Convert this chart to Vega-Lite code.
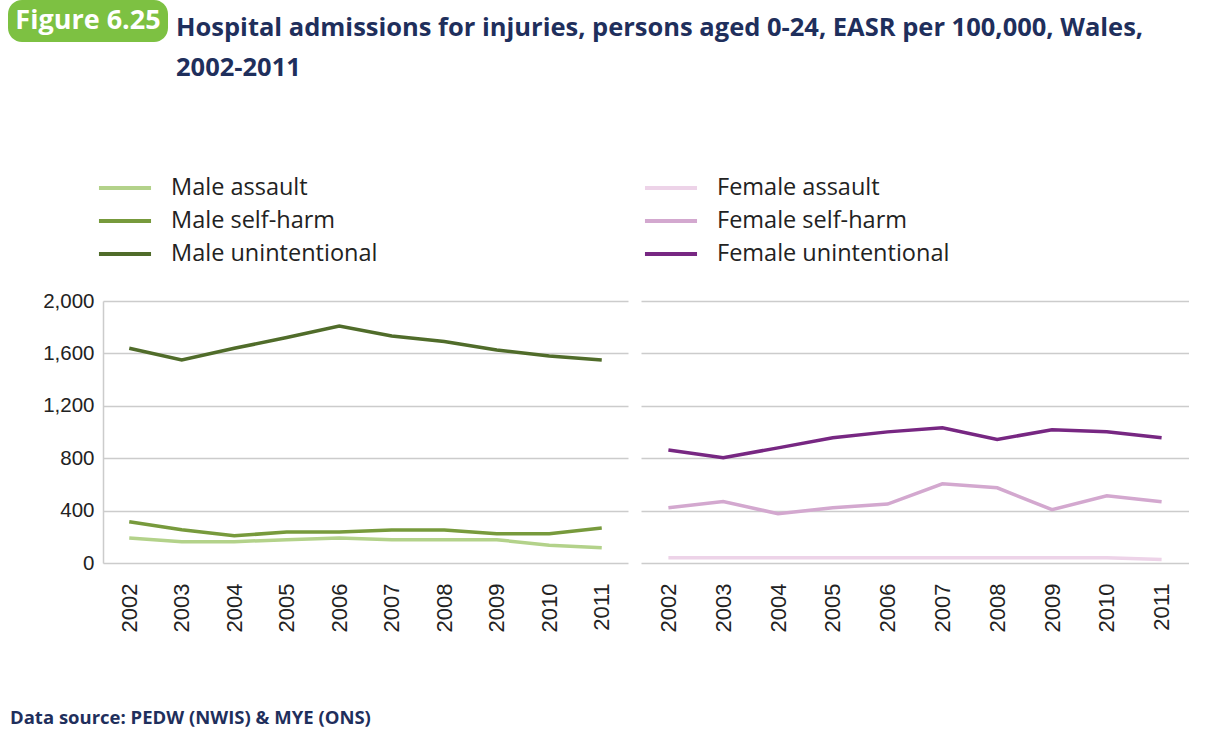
{
  "$schema": "https://vega.github.io/schema/vega-lite/v6.json",
  "background": "white",
  "padding": {"left": 8, "top": 0, "right": 0, "bottom": 0},
  "datasets": {
    "d": [
      {"panel": "Male", "series": "Male assault", "year": "2002", "value": 191},
      {"panel": "Male", "series": "Male assault", "year": "2003", "value": 163},
      {"panel": "Male", "series": "Male assault", "year": "2004", "value": 163},
      {"panel": "Male", "series": "Male assault", "year": "2005", "value": 178},
      {"panel": "Male", "series": "Male assault", "year": "2006", "value": 191},
      {"panel": "Male", "series": "Male assault", "year": "2007", "value": 178},
      {"panel": "Male", "series": "Male assault", "year": "2008", "value": 178},
      {"panel": "Male", "series": "Male assault", "year": "2009", "value": 178},
      {"panel": "Male", "series": "Male assault", "year": "2010", "value": 135},
      {"panel": "Male", "series": "Male assault", "year": "2011", "value": 117},
      {"panel": "Male", "series": "Male self-harm", "year": "2002", "value": 315},
      {"panel": "Male", "series": "Male self-harm", "year": "2003", "value": 254},
      {"panel": "Male", "series": "Male self-harm", "year": "2004", "value": 208},
      {"panel": "Male", "series": "Male self-harm", "year": "2005", "value": 236},
      {"panel": "Male", "series": "Male self-harm", "year": "2006", "value": 236},
      {"panel": "Male", "series": "Male self-harm", "year": "2007", "value": 252},
      {"panel": "Male", "series": "Male self-harm", "year": "2008", "value": 252},
      {"panel": "Male", "series": "Male self-harm", "year": "2009", "value": 224},
      {"panel": "Male", "series": "Male self-harm", "year": "2010", "value": 224},
      {"panel": "Male", "series": "Male self-harm", "year": "2011", "value": 267},
      {"panel": "Male", "series": "Male unintentional", "year": "2002", "value": 1639},
      {"panel": "Male", "series": "Male unintentional", "year": "2003", "value": 1550},
      {"panel": "Male", "series": "Male unintentional", "year": "2004", "value": 1639},
      {"panel": "Male", "series": "Male unintentional", "year": "2005", "value": 1721},
      {"panel": "Male", "series": "Male unintentional", "year": "2006", "value": 1809},
      {"panel": "Male", "series": "Male unintentional", "year": "2007", "value": 1733},
      {"panel": "Male", "series": "Male unintentional", "year": "2008", "value": 1690},
      {"panel": "Male", "series": "Male unintentional", "year": "2009", "value": 1626},
      {"panel": "Male", "series": "Male unintentional", "year": "2010", "value": 1581},
      {"panel": "Male", "series": "Male unintentional", "year": "2011", "value": 1550},
      {"panel": "Female", "series": "Female assault", "year": "2002", "value": 41},
      {"panel": "Female", "series": "Female assault", "year": "2003", "value": 41},
      {"panel": "Female", "series": "Female assault", "year": "2004", "value": 41},
      {"panel": "Female", "series": "Female assault", "year": "2005", "value": 41},
      {"panel": "Female", "series": "Female assault", "year": "2006", "value": 41},
      {"panel": "Female", "series": "Female assault", "year": "2007", "value": 41},
      {"panel": "Female", "series": "Female assault", "year": "2008", "value": 41},
      {"panel": "Female", "series": "Female assault", "year": "2009", "value": 41},
      {"panel": "Female", "series": "Female assault", "year": "2010", "value": 41},
      {"panel": "Female", "series": "Female assault", "year": "2011", "value": 26},
      {"panel": "Female", "series": "Female self-harm", "year": "2002", "value": 422},
      {"panel": "Female", "series": "Female self-harm", "year": "2003", "value": 470},
      {"panel": "Female", "series": "Female self-harm", "year": "2004", "value": 376},
      {"panel": "Female", "series": "Female self-harm", "year": "2005", "value": 422},
      {"panel": "Female", "series": "Female self-harm", "year": "2006", "value": 450},
      {"panel": "Female", "series": "Female self-harm", "year": "2007", "value": 605},
      {"panel": "Female", "series": "Female self-harm", "year": "2008", "value": 574},
      {"panel": "Female", "series": "Female self-harm", "year": "2009", "value": 407},
      {"panel": "Female", "series": "Female self-harm", "year": "2010", "value": 513},
      {"panel": "Female", "series": "Female self-harm", "year": "2011", "value": 467},
      {"panel": "Female", "series": "Female unintentional", "year": "2002", "value": 862},
      {"panel": "Female", "series": "Female unintentional", "year": "2003", "value": 803},
      {"panel": "Female", "series": "Female unintentional", "year": "2004", "value": 879},
      {"panel": "Female", "series": "Female unintentional", "year": "2005", "value": 956},
      {"panel": "Female", "series": "Female unintentional", "year": "2006", "value": 1001},
      {"panel": "Female", "series": "Female unintentional", "year": "2007", "value": 1032},
      {"panel": "Female", "series": "Female unintentional", "year": "2008", "value": 943},
      {"panel": "Female", "series": "Female unintentional", "year": "2009", "value": 1017},
      {"panel": "Female", "series": "Female unintentional", "year": "2010", "value": 1001},
      {"panel": "Female", "series": "Female unintentional", "year": "2011", "value": 956}
    ],
    "badge": [{"t": "Figure 6.25"}],
    "blank": [{"t": ""}]
  },
  "title": {
    "text": "Data source: PEDW (NWIS) & MYE (ONS)",
    "orient": "bottom",
    "anchor": "start",
    "frame": "bounds",
    "offset": 77,
    "dx": 2,
    "font": "Open Sans",
    "fontSize": 18.5,
    "fontWeight": "bold",
    "color": "#1f2f5c"
  },
  "concat": [
    {
      "hconcat": [
        {
          "width": 160,
          "height": 42,
          "data": {"name": "badge"},
          "mark": {"type": "text", "color": "white", "font": "Open Sans", "fontSize": 27, "fontWeight": "bold"},
          "encoding": {"text": {"field": "t"}},
          "view": {"fill": "#7dc142", "stroke": null, "cornerRadius": 14}
        },
        {
          "width": 1000,
          "height": 82,
          "data": {"name": "blank"},
          "mark": {"type": "text"},
          "encoding": {"text": {"field": "t"}},
          "title": {
            "text": ["Hospital admissions for injuries, persons aged 0-24, EASR per 100,000, Wales,", "2002-2011"],
            "anchor": "start",
            "orient": "top",
            "frame": "group",
            "baseline": "alphabetic",
            "offset": -101,
            "font": "Open Sans",
            "fontSize": 25.5,
            "fontWeight": "bold",
            "color": "#1f2f5c",
            "lineHeight": 40
          }
        }
      ],
      "spacing": 8
    },
    {
      "hconcat": [
        {
          "width": 21,
          "height": 262,
          "data": {"name": "blank"},
          "mark": {"type": "text"},
          "encoding": {"text": {"field": "t"}}
        },
        {
          "width": 525,
          "height": 262,
          "data": {"name": "d"},
          "transform": [{"filter": "datum.panel === 'Male'"}],
          "mark": {"type": "line", "strokeWidth": 3.5},
          "encoding": {
            "x": {
              "field": "year", "type": "ordinal",
              "scale": {"type": "point", "padding": 0.5},
              "axis": {"title": null, "labelAngle": -90, "labelFontSize": 22, "labelFont": "Liberation Sans", "labelColor": "#222", "labelPadding": 20, "ticks": false, "domain": false, "grid": false}
            },
            "y": {
              "field": "value", "type": "quantitative",
              "scale": {"domain": [0, 2000]},
              "axis": {"title": null, "values": [0, 400, 800, 1200, 1600, 2000], "format": ",.0f", "ticks": false, "domain": true, "domainColor": "#cccccc", "domainWidth": 1.5, "labelFontSize": 20.5, "labelFont": "Liberation Sans", "labelColor": "#222", "labelPadding": 9, "gridColor": "#cccccc", "gridWidth": 1.5}
            },
            "color": {
              "field": "series", "type": "nominal",
              "scale": {"domain": ["Male assault", "Male self-harm", "Male unintentional"], "range": ["#b3d28a", "#779a3c", "#506c2a"]},
              "legend": {"title": null, "orient": "none", "legendX": 1, "legendY": -134, "direction": "vertical", "symbolType": "M-1.37,0H1.37", "symbolSize": 1444, "symbolStrokeWidth": 4, "labelFontSize": 23.5, "labelFont": "Open Sans", "labelColor": "#222", "labelOffset": 25, "labelLimit": 400, "rowPadding": 0}
            }
          }
        },
        {
          "width": 548,
          "height": 262,
          "data": {"name": "d"},
          "transform": [{"filter": "datum.panel === 'Female'"}],
          "mark": {"type": "line", "strokeWidth": 3.5},
          "encoding": {
            "x": {
              "field": "year", "type": "ordinal",
              "scale": {"type": "point", "padding": 0.5},
              "axis": {"title": null, "labelAngle": -90, "labelFontSize": 22, "labelFont": "Liberation Sans", "labelColor": "#222", "labelPadding": 20, "ticks": false, "domain": false, "grid": false}
            },
            "y": {
              "field": "value", "type": "quantitative",
              "scale": {"domain": [0, 2000]},
              "axis": {"title": null, "values": [0, 400, 800, 1200, 1600, 2000], "labels": false, "ticks": false, "domain": false, "gridColor": "#cccccc", "gridWidth": 1.5}
            },
            "color": {
              "field": "series", "type": "nominal",
              "scale": {"domain": ["Female assault", "Female self-harm", "Female unintentional"], "range": ["#edd3e8", "#d3a8cf", "#772782"]},
              "legend": {"title": null, "orient": "none", "legendX": 9, "legendY": -134, "direction": "vertical", "symbolType": "M-1.37,0H1.37", "symbolSize": 1444, "symbolStrokeWidth": 4, "labelFontSize": 23.5, "labelFont": "Open Sans", "labelColor": "#222", "labelOffset": 25, "labelLimit": 400, "rowPadding": 0}
            }
          }
        }
      ],
      "spacing": 13,
      "resolve": {"scale": {"color": "independent", "y": "independent", "x": "independent"}}
    }
  ],
  "columns": 1,
  "align": "none",
  "spacing": 85,
  "config": {
    "view": {"stroke": null}
  }
}
